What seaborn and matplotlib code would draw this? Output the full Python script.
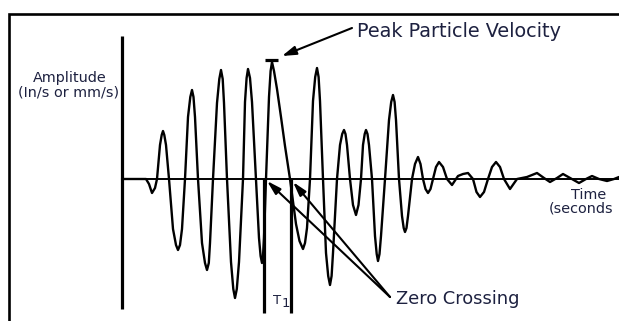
import matplotlib
matplotlib.use("Agg")
import matplotlib.pyplot as plt
import seaborn as sns
import pandas as pd

# ---- data (schematic units: time from the vertical axis, amplitude from the zero line) ----
time = [0, 24, 27, 30, 33, 35,
        38, 39.7, 41, 42.3, 44, 47,
        51, 54, 56, 58, 60, 63,
        66, 68.3, 70, 71.5, 73, 76,
        80, 83, 85, 86.8, 88, 91,
        95, 97.3, 99, 100.7, 102, 105,
        109, 111.3, 113, 114.8, 117, 121,
        123, 124.6, 126, 128, 130, 134,
        137, 138.6, 140, 141, 142, 144,
        147, 148.6, 150, 152, 155, 159, 163, 168,
        174, 177.5, 181, 183, 185, 188,
        191, 193.2, 195, 196.6, 198, 201,
        204, 206.2, 208, 209.6, 211, 215,
        218, 220.2, 222, 223.5, 225, 228,
        231, 234, 236.5, 239,
        241, 242.7, 244, 245.5, 247, 250,
        253, 254.7, 256, 257.5, 259, 263,
        267, 269.2, 271, 272.6, 274, 277,
        280, 281.7, 283, 284.5, 286, 290,
        293, 296, 298.5, 301,
        303.5, 306, 308.5, 311,
        314, 317, 321, 325,
        330, 336, 341, 346, 351,
        354.5, 358, 362, 366,
        370, 374, 378, 382,
        388, 395, 405, 415, 422, 428, 435, 441, 450, 457, 464, 470, 477, 485, 492, 497]
amplitude = [0, 0, -5, -14, -9, 0,
             34, 44, 48, 44, 34, 0,
             -50, -66, -71, -66, -50, 0,
             62, 82, 89, 82, 62, 0,
             -64, -84, -91, -84, -64, 0,
             76, 100, 109, 100, 76, 0,
             -83, -110, -119, -110, -83, 0,
             77, 101, 110, 101, 77, 0,
             -59, -77, -84, -77, -59, 0,
             82, 108, 117, 108, 90, 62, 33, 0,
             -45, -62, -70, -64, -49, 0,
             78, 102, 111, 102, 78, 0,
             -74, -97, -106, -97, -74, 0,
             34, 45, 49, 45, 34, 0,
             -26, -36, -26, 0,
             34, 45, 49, 45, 34, 0,
             -57, -75, -82, -75, -57, 0,
             59, 77, 84, 77, 59, 0,
             -37, -49, -53, -49, -37, 0,
             15, 22, 15, 0,
             -10, -14, -10, 0,
             12, 17, 12, 0,
             -6, 3, 5, 6, 0,
             -13, -18, -13, 0,
             12, 17, 12, 0,
             -10, 0, 2, 6, 1, -3, 1, 5, 0, -4, 0, 3, 0, -2, 0, 2]

t_end = 497
ppv_time, ppv_value = 150, 117
crossing_times = [142, 169]
labels = {
    "ppv": "Peak Particle Velocity",
    "zero": "Zero Crossing",
    "amp1": "Amplitude",
    "amp2": "(In/s or mm/s)",
    "time1": "Time",
    "time2": "(seconds",
}

df = pd.DataFrame({"time": time, "amplitude": amplitude})

sns.set_theme(style="white")
plt.rcParams["font.family"] = ["DejaVu Sans"]

txt = "#1d2140"
fig = plt.figure(figsize=(6.19, 3.21), dpi=100)
ax = fig.add_axes([0, 0, 1, 1])
ax.set_xlim(-122, 497)
ax.set_ylim(-142, 179)
ax.axis("off")

# frame
ax.plot([-113, -113, 497], [-142, 165, 165], color="black", lw=1.9, clip_on=False,
        solid_joinstyle="miter")

# axes
ax.plot([0, 0], [143, -130], color="black", lw=2.3, solid_capstyle="butt")
ax.plot([0, t_end], [0, 0], color="black", lw=1.4)

# waveform
sns.lineplot(data=df, x="time", y="amplitude", ax=ax, color="black", lw=1.7,
             estimator=None, sort=False, solid_joinstyle="round")

# peak marker bar
ax.plot([ppv_time - 7, ppv_time + 6], [ppv_value + 2, ppv_value + 2], color="black", lw=2.3,
        solid_capstyle="butt")

# T1 lines
for tc in crossing_times:
    ax.plot([tc, tc], [0, -134], color="black", lw=2.3, solid_capstyle="butt")
ax.text(151, -125, "T", color=txt, fontsize=9.5, ha="left", va="baseline")
ax.text(160, -128, "1", color=txt, fontsize=9.5, ha="left", va="baseline")

# annotations
ax.annotate("", xy=(160, 123), xytext=(230, 151),
            arrowprops=dict(arrowstyle="-|>,head_length=0.7,head_width=0.22",
                            color="black", lw=1.5, shrinkA=0, shrinkB=0))
ax.text(235, 142, labels["ppv"], color=txt, fontsize=13.9, ha="left", va="baseline")

for tip in [(145, -2), (171, -3)]:
    ax.annotate("", xy=tip, xytext=(268, -118),
                arrowprops=dict(arrowstyle="-|>,head_length=0.7,head_width=0.2",
                                color="black", lw=1.5, shrinkA=0, shrinkB=0))
ax.text(274, -125, labels["zero"], color=txt, fontsize=12.9, ha="left", va="baseline")

ax.text(-52, 97, labels["amp1"], color=txt, fontsize=10.4, ha="center", va="baseline")
ax.text(-53, 82, labels["amp2"], color=txt, fontsize=10.4, ha="center", va="baseline")
ax.text(467, -20, labels["time1"], color=txt, fontsize=10.4, ha="center", va="baseline")
ax.text(427, -33, labels["time2"], color=txt, fontsize=10.4, ha="left", va="baseline")

fig.savefig("out.png", dpi=100, facecolor="white")
